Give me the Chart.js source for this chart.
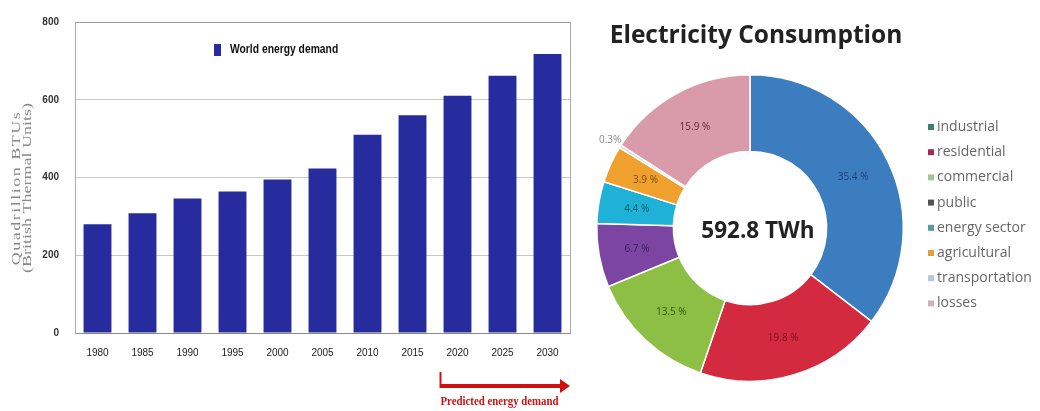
<!DOCTYPE html>
<html lang="en">
<head>
<meta charset="UTF-8">
<title>Energy demand / Electricity consumption</title>
<script src="https://cdn.jsdelivr.net/npm/chart.js"></script>
<style>
    body { margin: 0; background: #fff; }
    .box { position: absolute; top: 0; height: 411px; }
    #box_bars { left: 0; width: 580px; }
    #box_donut { left: 580px; width: 460px; }
</style>
</head>
<body>

<div class="box" id="box_bars"><canvas id="barCanvas" width="580" height="411"></canvas></div>
<div class="box" id="box_donut"><canvas id="donutCanvas" width="460" height="411"></canvas></div>

<script>
    // left chart - world energy demand
    const years = ['1980', '1985', '1990', '1995', '2000', '2005', '2010', '2015', '2020', '2025', '2030'];
    const demand = [280, 308, 346, 364, 395, 423, 510, 560, 610, 662, 718];
    const yTicks = [0, 200, 400, 600, 800];

    // right chart - electricity consumption
    const sectors = ['industrial', 'residential', 'commercial', 'public', 'energy sector', 'agricultural', 'transportation', 'losses'];
    const shares = [35.4, 19.8, 13.5, 6.7, 4.4, 3.9, 0.3, 15.9];
    const shareLabels = ['35.4 %', '19.8 %', '13.5 %', '6.7 %', '4.4 %', '3.9 %', '0.3%', '15.9 %'];
    const sectorColors = ['#3b7dbf', '#d42a3f', '#8dbf45', '#7c45a2', '#20b2d6', '#f0a02c', '#c8dcef', '#d99aaa'];
    const labelColors = ['#1d3f7a', '#7a1020', '#2f5a10', '#3a1a60', '#0f5a70', '#7a4a10', '#888888', '#6a2a3a'];
    const legendColors = ['#3f7f70', '#9a3050', '#a0c890', '#555555', '#5a9a9a', '#e0a040', '#b8c8dc', '#d0b4bc'];

    const sans = "'Liberation Sans', Arial, sans-serif";
    const barColor = '#262c9e';

    // text squeezed or stretched along its own direction
    function scaledText(ctx, text, x, y, sx) {
        ctx.save();
        ctx.translate(x, y);
        ctx.scale(sx, 1);
        ctx.fillText(text, 0, 0);
        ctx.restore();
    }

    // extra drawing for the bar chart: frame, axis title, legend, arrow
    const barExtras = {
        id: 'barExtras',
        afterDraw(chart) {
            const ctx = chart.ctx;
            const area = chart.chartArea;
            ctx.save();

            // right side of the frame
            ctx.strokeStyle = '#aaa';
            ctx.lineWidth = 1;
            ctx.beginPath();
            ctx.moveTo(area.right + 0.5, area.top);
            ctx.lineTo(area.right + 0.5, area.bottom);
            ctx.stroke();

            // y title, two lines, rotated
            ctx.fillStyle = '#888';
            ctx.font = "12px 'Liberation Serif', serif";
            ctx.textAlign = 'center';
            ctx.textBaseline = 'middle';
            ctx.save();
            ctx.translate(17, 188);
            ctx.rotate(-Math.PI / 2);
            ctx.letterSpacing = '1px';
            scaledText(ctx, 'Quadrillion BTUs', 0, 0, 1.5);
            ctx.letterSpacing = '0px';
            scaledText(ctx, '(British Thermal Units)', 0, 11, 1.5);
            ctx.restore();

            // legend inside the plot
            ctx.fillStyle = barColor;
            ctx.fillRect(214, 44, 7, 12);
            ctx.fillStyle = '#111';
            ctx.font = 'bold 12px ' + sans;
            ctx.textAlign = 'left';
            scaledText(ctx, 'World energy demand', 230, 50, 0.86);

            // predicted arrow
            const x = chart.scales.x;
            const x0 = x.getPixelForValue(8) - 17;
            const x1 = area.right;
            ctx.strokeStyle = '#d01010';
            ctx.fillStyle = '#d01010';
            ctx.lineWidth = 4;
            ctx.beginPath();
            ctx.moveTo(x0, 386);
            ctx.lineTo(x1 - 8, 386);
            ctx.stroke();
            ctx.lineWidth = 2;
            ctx.beginPath();
            ctx.moveTo(x0, 372);
            ctx.lineTo(x0, 388);
            ctx.stroke();
            ctx.beginPath();
            ctx.moveTo(x1, 386);
            ctx.lineTo(x1 - 10, 379);
            ctx.lineTo(x1 - 10, 393);
            ctx.closePath();
            ctx.fill();

            ctx.font = "bold 12px 'Liberation Serif', serif";
            ctx.textAlign = 'center';
            scaledText(ctx, 'Predicted energy demand', x0 + 59, 402, 0.9);
            ctx.restore();
        }
    };

    new Chart(document.getElementById('barCanvas'), {
        type: 'bar',
        data: {
            labels: years,
            datasets: [{
                label: 'World energy demand',
                data: demand,
                backgroundColor: barColor,
                barPercentage: 0.62,
                categoryPercentage: 1
            }]
        },
        options: {
            responsive: false,
            animation: false,
            devicePixelRatio: 1,
            layout: { padding: { left: 0, right: 10, top: 21, bottom: 0 } },
            plugins: { legend: { display: false }, tooltip: { enabled: false } },
            scales: {
                x: {
                    grid: { display: false, drawTicks: false },
                    border: { display: true, color: '#888', dash: [2, 2] },
                    ticks: { color: '#222', padding: 14, font: { family: sans, size: 10 } },
                    afterFit(s) { s.height = 78; }
                },
                y: {
                    min: 0,
                    max: 800,
                    afterBuildTicks(s) { s.ticks = yTicks.map(v => ({ value: v })); },
                    grid: {
                        drawTicks: false,
                        color: c => c.tick.value === 0 ? 'rgba(0,0,0,0)' : (c.tick.value === 800 ? '#999' : '#c8c8c8')
                    },
                    border: { display: true, color: '#aaa' },
                    ticks: { color: '#333', padding: 16, font: { family: sans, size: 10, weight: 'bold' } },
                    afterFit(s) { s.width = 75; }
                }
            }
        },
        plugins: [barExtras]
    });

    // extra drawing for the doughnut: title, slice labels, centre text, legend
    const donutExtras = {
        id: 'donutExtras',
        afterDraw(chart) {
            const ctx = chart.ctx;
            const arcs = chart.getDatasetMeta(0).data;
            ctx.save();

            ctx.fillStyle = '#222';
            ctx.font = "bold 24.5px 'Open Sans', sans-serif";
            ctx.textAlign = 'center';
            ctx.textBaseline = 'alphabetic';
            ctx.fillText('Electricity Consumption', 176, 43);

            ctx.textBaseline = 'middle';
            ctx.font = "10px 'Open Sans', sans-serif";
            arcs.forEach((arc, i) => {
                let p;
                if (shares[i] < 1) {
                    const mid = (arc.startAngle + arc.endAngle) / 2;
                    const r = arc.outerRadius + 12;
                    p = { x: arc.x + r * Math.cos(mid), y: arc.y + r * Math.sin(mid) };
                } else {
                    p = arc.tooltipPosition();
                }
                ctx.fillStyle = labelColors[i];
                ctx.fillText(shareLabels[i], p.x, p.y);
            });

            ctx.fillStyle = '#222';
            ctx.font = "bold 22.5px 'Open Sans', sans-serif";
            ctx.textBaseline = 'alphabetic';
            ctx.fillText('592.8 TWh', arcs[0].x + 8, arcs[0].y + 10);

            // legend on the right
            ctx.textBaseline = 'middle';
            ctx.font = "14px 'Open Sans', sans-serif";
            ctx.textAlign = 'left';
            for (let i = 0; i < sectors.length; i++) {
                const y = 127 + i * 25.2;
                ctx.fillStyle = legendColors[i];
                ctx.fillRect(348, y - 3, 6, 6);
                ctx.fillStyle = '#666';
                ctx.fillText(sectors[i], 357, y);
            }
            ctx.restore();
        }
    };

    new Chart(document.getElementById('donutCanvas'), {
        type: 'doughnut',
        data: {
            labels: sectors,
            datasets: [{
                data: shares,
                backgroundColor: sectorColors,
                borderColor: '#fff',
                borderWidth: 1.5
            }]
        },
        options: {
            responsive: false,
            animation: false,
            devicePixelRatio: 1,
            cutout: '50%',
            layout: { padding: { left: 16, right: 136, top: 74, bottom: 29 } },
            plugins: { legend: { display: false }, tooltip: { enabled: false } }
        },
        plugins: [donutExtras]
    });
</script>
</body>
</html>
